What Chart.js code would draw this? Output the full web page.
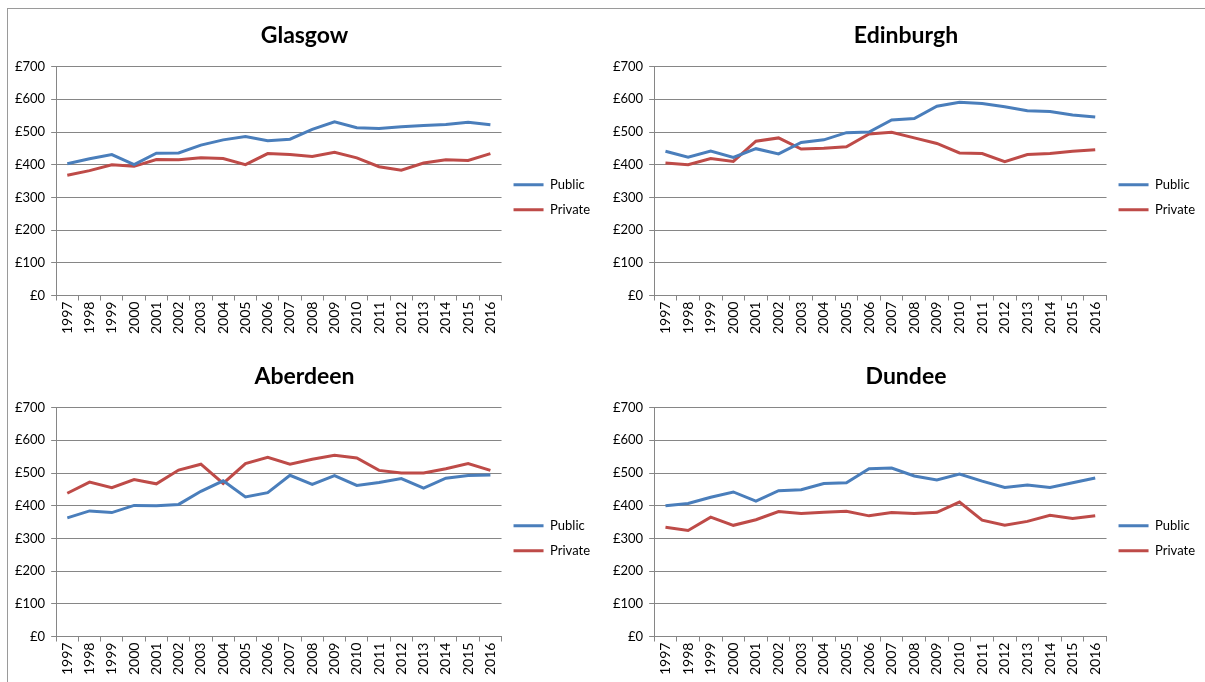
<!DOCTYPE html>
<html>
<head>
<meta charset="utf-8">
<script src="https://cdn.jsdelivr.net/npm/chart.js@4"></script>
<style>
  body { margin: 0; background: #fff; }
  #frame { position: absolute; left: 7px; top: 8px; width: 1198px; height: 674px; border-left: 1px solid #9a9a9a; border-top: 1px solid #9a9a9a; }
  .box { position: absolute; }
  canvas { display: block; }
</style>
</head>
<body>
<div id="frame"></div>
<div class="box" style="left:8px; top:9px;"><canvas id="glasgow" width="592" height="332"></canvas></div>
<div class="box" style="left:606px; top:9px;"><canvas id="edinburgh" width="599" height="332"></canvas></div>
<div class="box" style="left:8px; top:350px;"><canvas id="aberdeen" width="592" height="332"></canvas></div>
<div class="box" style="left:606px; top:350px;"><canvas id="dundee" width="599" height="332"></canvas></div>
<script>
const years = ['1997','1998','1999','2000','2001','2002','2003','2004','2005','2006','2007','2008','2009','2010','2011','2012','2013','2014','2015','2016'];
const yTicks = [0, 100, 200, 300, 400, 500, 600, 700];
const seriesNames = ['Public', 'Private'];
const lineColors = ['#4a7ebb', '#be4b48'];

const glasgowPublic  = [403, 418, 431, 400, 435, 436, 460, 476, 486, 473, 478, 508, 531, 513, 511, 516, 520, 523, 530, 522];
const glasgowPrivate = [368, 382, 400, 395, 416, 415, 421, 419, 400, 434, 431, 425, 438, 421, 394, 383, 405, 415, 413, 434];

const edinburghPublic  = [441, 423, 442, 422, 449, 433, 468, 476, 498, 500, 537, 541, 579, 591, 587, 577, 565, 563, 552, 546];
const edinburghPrivate = [405, 400, 419, 410, 472, 482, 448, 450, 455, 494, 499, 482, 465, 436, 434, 409, 431, 434, 441, 446];

const aberdeenPublic  = [363, 384, 379, 401, 400, 404, 444, 476, 427, 440, 493, 465, 492, 462, 471, 483, 454, 484, 492, 494];
const aberdeenPrivate = [438, 472, 455, 480, 467, 509, 527, 468, 529, 548, 527, 542, 554, 546, 508, 500, 500, 513, 529, 508];

const dundeePublic  = [400, 407, 426, 442, 414, 446, 449, 468, 470, 513, 515, 491, 479, 497, 475, 456, 463, 456, 470, 485];
const dundeePrivate = [334, 324, 365, 340, 357, 382, 376, 380, 383, 369, 379, 376, 380, 411, 356, 340, 352, 371, 361, 369];

const fontFamily = "Lato, 'Noto Sans', 'Liberation Sans', sans-serif";
const axisGray = '#868686';

function makeChart(id, title, publicValues, privateValues) {
  const values = [publicValues, privateValues];
  return new Chart(document.getElementById(id), {
    type: 'line',
    data: {
      labels: years,
      datasets: seriesNames.map((name, i) => ({
        label: name,
        data: values[i],
        borderColor: lineColors[i],
        backgroundColor: lineColors[i],
        borderWidth: 3,
        pointRadius: 0,
        tension: 0
      }))
    },
    options: {
      responsive: false,
      animation: false,
      layout: { padding: { left: 1, right: 0, top: 0, bottom: 6 } },
      plugins: {
        title: {
          display: true,
          text: title,
          color: '#000',
          font: { family: fontFamily, size: 23, weight: 'bold' },
          padding: { top: 13, bottom: 17 }
        },
        legend: {
          position: 'right',
          title: { display: true, text: ' ', font: { size: 12 }, padding: { top: 18, bottom: 18 } },
          labels: {
            usePointStyle: true,
            pointStyle: 'line',
            pointStyleWidth: 30,
            boxHeight: 3,
            padding: 12,
            color: '#000',
            font: { family: fontFamily, size: 13 }
          }
        },
        tooltip: { enabled: false }
      },
      scales: {
        x: {
          offset: true,
          grid: { offset: true, drawOnChartArea: false, drawTicks: true, tickLength: 5, color: axisGray },
          border: { color: axisGray },
          ticks: { minRotation: 90, maxRotation: 90, autoSkip: false, color: '#000', padding: 1, font: { family: fontFamily, size: 14 } }
        },
        y: {
          min: 0,
          max: 700,
          afterBuildTicks: axis => { axis.ticks = yTicks.map(v => ({ value: v })); },
          grid: { color: axisGray, tickLength: 5 },
          border: { color: axisGray },
          ticks: { color: '#000', padding: 6, font: { family: fontFamily, size: 13 }, callback: v => '£' + v }
        }
      }
    }
  });
}

makeChart('glasgow', 'Glasgow', glasgowPublic, glasgowPrivate);
makeChart('edinburgh', 'Edinburgh', edinburghPublic, edinburghPrivate);
makeChart('aberdeen', 'Aberdeen', aberdeenPublic, aberdeenPrivate);
makeChart('dundee', 'Dundee', dundeePublic, dundeePrivate);
</script>
</body>
</html>
